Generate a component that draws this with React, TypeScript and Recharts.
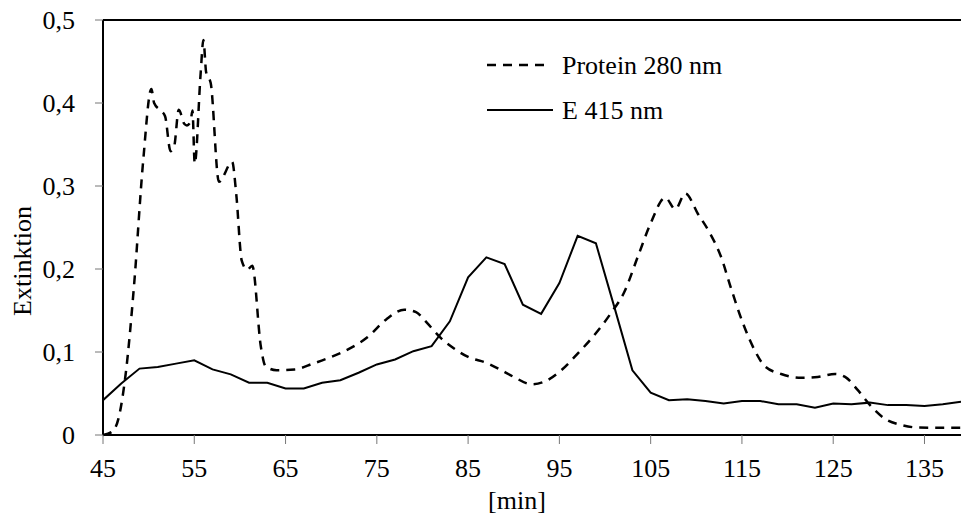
import { LineChart, Line, XAxis, YAxis, ReferenceLine, Customized } from 'recharts';

// E 415 nm, sampled every 2 min
const e415Time = [45, 47, 49, 51, 53, 55, 57, 59, 61, 63, 65, 67, 69, 71, 73, 75, 77, 79, 81, 83, 85, 87, 89, 91, 93, 95, 97, 99, 101, 103, 105, 107, 109, 111, 113, 115, 117, 119, 121, 123, 125, 127, 129, 131, 133, 135, 137, 139];
const e415Values = [0.042, 0.062, 0.080, 0.082, 0.086, 0.090, 0.079, 0.073, 0.063, 0.063, 0.056, 0.056, 0.063, 0.066, 0.075, 0.085, 0.091, 0.101, 0.107, 0.137, 0.190, 0.214, 0.206, 0.157, 0.146, 0.183, 0.240, 0.231, 0.155, 0.078, 0.051, 0.042, 0.043, 0.041, 0.038, 0.041, 0.041, 0.037, 0.037, 0.033, 0.038, 0.037, 0.039, 0.036, 0.036, 0.035, 0.037, 0.040];

// Protein 280 nm
const proteinTime = [45, 46, 46.7, 47.5, 48.4, 49.4, 50.3, 50.6, 51.3, 51.8, 52.4, 52.8, 53.3, 53.9, 54.2, 54.6, 54.8, 55.05, 55.7, 56, 56.3, 56.8, 57.7, 59.15, 59.6, 60.2, 60.8, 61.35, 62.3, 62.8, 64, 66, 68, 70, 72, 74, 76, 78, 79.3, 80.5, 82, 83.5, 85, 87, 88.5, 90, 92, 93.3, 95.2, 97, 98.8, 100.6, 102.1, 103.6, 105, 106.6, 107.7, 108.8, 110.2, 111.4, 112.7, 113.8, 115.1, 116.4, 117.5, 119.3, 121.5, 123.3, 125.2, 126.3, 127.7, 129.2, 130.6, 132.5, 134.3, 136.5, 139];
const proteinValues = [0, 0.004, 0.02, 0.075, 0.18, 0.33, 0.417, 0.4, 0.391, 0.384, 0.342, 0.348, 0.392, 0.375, 0.373, 0.378, 0.391, 0.327, 0.436, 0.476, 0.437, 0.424, 0.305, 0.329, 0.29, 0.21, 0.199, 0.204, 0.106, 0.083, 0.078, 0.079, 0.086, 0.094, 0.104, 0.118, 0.139, 0.151, 0.148, 0.135, 0.117, 0.104, 0.094, 0.087, 0.079, 0.07, 0.061, 0.064, 0.078, 0.098, 0.12, 0.146, 0.172, 0.215, 0.255, 0.286, 0.272, 0.291, 0.266, 0.245, 0.215, 0.177, 0.135, 0.102, 0.083, 0.0735, 0.069, 0.07, 0.0735, 0.07, 0.054, 0.034, 0.02, 0.012, 0.009, 0.0088, 0.0088];

const xTicks = [45, 55, 65, 75, 85, 95, 105, 115, 125, 135];
const yTicks = [0, 0.1, 0.2, 0.3, 0.4, 0.5];

const FONT = "'Times New Roman', Times, 'Liberation Serif', 'DejaVu Serif', 'Noto Serif', serif";

const e415Data = e415Time.map((t, i) => ({ t, v: e415Values[i] }));
const proteinData = proteinTime.map((t, i) => ({ t, v: proteinValues[i] }));

const fmtY = (v: number) => (v === 0 ? '0' : v.toFixed(1).replace('.', ','));

// legend and axis titles drawn straight into the svg so they don't eat plot space
function Extras() {
  return (
    <g style={{ fontFamily: FONT, fontSize: 26 }} fill="#000">
      <line x1={487} y1={65} x2={551} y2={65} stroke="#000" strokeWidth={2.5} strokeDasharray="9 7" />
      <text x={562} y={65} dominantBaseline="central">Protein 280 nm</text>
      <line x1={487} y1={110} x2={553} y2={110} stroke="#000" strokeWidth={2} />
      <text x={562} y={110} dominantBaseline="central">E 415 nm</text>
      <text x={517} y={509} textAnchor="middle">[min]</text>
      <text x={31} y={261} textAnchor="middle" transform="rotate(-90 31 261)">Extinktion</text>
    </g>
  );
}

export default function App() {
  return (
    <div style={{ position: 'absolute', left: 0, top: 0, background: '#fff', fontFamily: FONT }}>
      <LineChart width={961} height={519} margin={{ top: 20, right: 0, bottom: 0, left: 0 }}>
        <XAxis
          dataKey="t"
          type="number"
          domain={[45, 139]}
          allowDataOverflow
          ticks={xTicks}
          interval={0}
          height={84}
          tickSize={9}
          tickMargin={15}
          axisLine={{ stroke: '#000', strokeWidth: 2 }}
          tickLine={{ stroke: '#777', strokeWidth: 1 }}
          tick={{ fill: '#000', fontSize: 26, style: { fontFamily: FONT } }}
        />
        <YAxis
          type="number"
          domain={[0, 0.5]}
          ticks={yTicks}
          interval={0}
          width={103}
          tickSize={8}
          tickMargin={20}
          tickFormatter={fmtY}
          axisLine={{ stroke: '#000', strokeWidth: 2 }}
          tickLine={{ stroke: '#777', strokeWidth: 1 }}
          tick={{ fill: '#000', fontSize: 26, style: { fontFamily: FONT } }}
        />
        <ReferenceLine y={0.5} stroke="#000" strokeWidth={2} />
        <Line
          data={proteinData}
          dataKey="v"
          name="Protein 280 nm"
          type="monotone"
          stroke="#000"
          strokeWidth={2.5}
          strokeDasharray="9 7"
          dot={false}
          isAnimationActive={false}
        />
        <Line
          data={e415Data}
          dataKey="v"
          name="E 415 nm"
          type="linear"
          stroke="#000"
          strokeWidth={2}
          dot={false}
          isAnimationActive={false}
        />
        <Customized component={Extras} />
      </LineChart>
    </div>
  );
}
